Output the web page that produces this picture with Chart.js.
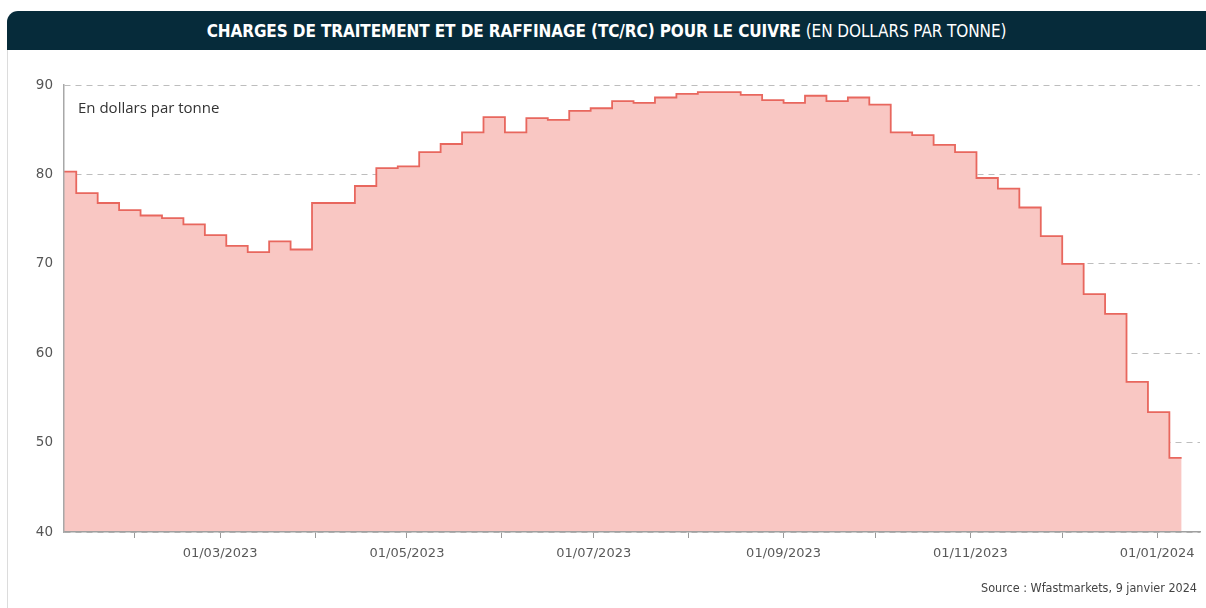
<!DOCTYPE html>
<html lang="fr">
<head>
<meta charset="utf-8">
<title>TC/RC cuivre</title>
<script src="https://cdn.jsdelivr.net/npm/chart.js@4"></script>
<style>
    html, body { margin: 0; padding: 0; background: #fff; }
    body { width: 1206px; height: 608px; position: relative; overflow: hidden; }
    .panel { position: absolute; left: 7px; top: 50px; width: 1199px; height: 558px; border-left: 1px solid #dcdcdc; }
    .title-bar {
        position: absolute; left: 7px; top: 11px; width: 1199px; height: 39px;
        background: #062b3a; border-top-left-radius: 11px;
        color: #fff; font-family: "DejaVu Sans Condensed", "DejaVu Sans", sans-serif; font-size: 17px;
        line-height: 40px; text-align: center; letter-spacing: -0.1px;
    }
    .title-bar b { font-weight: bold; }
    .title-bar span { font-weight: normal; }
    .unit { position: absolute; left: 78px; top: 97px; font-family: "Open Sans", sans-serif; font-size: 15px; color: #333; }
    .source { position: absolute; right: 9px; top: 580px; font-family: "DejaVu Sans Condensed", sans-serif; font-size: 12.5px; color: #444; }
    #chart-wrap { position: absolute; left: 0; top: 0; width: 1206px; height: 608px; }
</style>
</head>
<body>
<div class="panel"></div>
<div class="title-bar"><b>CHARGES DE TRAITEMENT ET DE RAFFINAGE (TC/RC) POUR LE CUIVRE</b> <span>(EN DOLLARS PAR TONNE)</span></div>
<div id="chart-wrap"><canvas id="tcrcChart" width="1206" height="608"></canvas></div>
<div class="unit">En dollars par tonne</div>
<div class="source">Source : Wfastmarkets, 9 janvier 2024</div>

<script>
// Weekly TC/RC price points (price set on Fridays), first and last are the range ends
const dates = [
    '2023-01-09',
    '2023-01-13', '2023-01-20', '2023-01-27',
    '2023-02-03', '2023-02-10', '2023-02-17', '2023-02-24',
    '2023-03-03', '2023-03-10', '2023-03-17', '2023-03-24', '2023-03-31',
    '2023-04-07', '2023-04-14', '2023-04-21', '2023-04-28',
    '2023-05-05', '2023-05-12', '2023-05-19', '2023-05-26',
    '2023-06-02', '2023-06-09', '2023-06-16', '2023-06-23', '2023-06-30',
    '2023-07-07', '2023-07-14', '2023-07-21', '2023-07-28',
    '2023-08-04', '2023-08-11', '2023-08-18', '2023-08-25',
    '2023-09-01', '2023-09-08', '2023-09-15', '2023-09-22', '2023-09-29',
    '2023-10-06', '2023-10-13', '2023-10-20', '2023-10-27',
    '2023-11-03', '2023-11-10', '2023-11-17', '2023-11-24',
    '2023-12-01', '2023-12-08', '2023-12-15', '2023-12-22', '2023-12-29',
    '2024-01-05',
    '2024-01-09'
];

const values = [
    80.3,
    77.9, 76.8, 76.0,
    75.4, 75.1, 74.4, 73.2,
    72.0, 71.3, 72.5, 71.6, 76.8,
    76.8, 78.7, 80.7, 80.9,
    82.5, 83.4, 84.7, 86.4,
    84.7, 86.3, 86.1, 87.1, 87.4,
    88.2, 88.0, 88.6, 89.0,
    89.2, 89.2, 88.9, 88.3,
    88.0, 88.8, 88.2, 88.6, 87.8,
    84.7, 84.4, 83.3, 82.5,
    79.6, 78.4, 76.3, 73.1,
    70.0, 66.6, 64.4, 56.8, 53.4,
    48.3,
    48.3
];

// month starts used as x ticks, only every other one is labelled
const monthTicks = [
    '2023-02-01', '2023-03-01', '2023-04-01', '2023-05-01', '2023-06-01', '2023-07-01',
    '2023-08-01', '2023-09-01', '2023-10-01', '2023-11-01', '2023-12-01', '2024-01-01'
];
const labelledMonths = ['01/03/2023', '01/05/2023', '01/07/2023', '01/09/2023', '01/11/2023', '01/01/2024'];

const yTicks = [40, 50, 60, 70, 80, 90];

const ORIGIN = Date.UTC(2023, 0, 1);
const toDay = iso => {
    const [y, m, d] = iso.split('-').map(Number);
    return (Date.UTC(y, m - 1, d) - ORIGIN) / 86400000;
};
const fmtDay = day => {
    const dt = new Date(ORIGIN + Math.round(day) * 86400000);
    const dd = String(dt.getUTCDate()).padStart(2, '0');
    const mm = String(dt.getUTCMonth() + 1).padStart(2, '0');
    return `${dd}/${mm}/${dt.getUTCFullYear()}`;
};

const points = dates.map((d, i) => ({ x: toDay(d), y: values[i] }));

const ctx = document.getElementById('tcrcChart').getContext('2d');
new Chart(ctx, {
    type: 'line',
    data: {
        datasets: [{
            label: 'TC/RC',
            data: points,
            stepped: 'before',
            borderColor: '#e8675e',
            borderWidth: 1.8,
            backgroundColor: '#f9c7c3',
            fill: 'start',
            pointRadius: 0,
            tension: 0
        }]
    },
    options: {
        responsive: false,
        animation: false,
        layout: { padding: { left: 0, top: 85, right: 6, bottom: 36 } },
        plugins: {
            legend: { display: false },
            tooltip: { enabled: false }
        },
        scales: {
            x: {
                type: 'linear',
                min: toDay('2023-01-09'),
                max: toDay('2024-01-15'),
                afterBuildTicks: scale => {
                    scale.ticks = monthTicks.map(d => ({ value: toDay(d) }));
                },
                afterFit: scale => { scale.height = 40; },
                ticks: {
                    autoSkip: false,
                    maxRotation: 0,
                    padding: 8,
                    color: '#5a5a5a',
                    font: { family: 'DejaVu Sans', size: 13 },
                    callback: value => {
                        const lbl = fmtDay(value);
                        return labelledMonths.includes(lbl) ? lbl : '';
                    }
                },
                grid: { drawOnChartArea: false, drawTicks: true, tickLength: 6, color: '#9a9a9a' },
                border: { display: true, color: '#a0a0a0', width: 1.5, z: 1 }
            },
            y: {
                min: 40,
                max: 90,
                afterBuildTicks: scale => {
                    scale.ticks = yTicks.map(v => ({ value: v }));
                },
                afterFit: scale => { scale.width = 64; },
                ticks: {
                    padding: 11,
                    color: '#555',
                    font: { family: 'DejaVu Sans', size: 13.5 }
                },
                grid: { drawTicks: false, color: '#bdbdbd', lineWidth: 1 },
                border: { display: true, color: '#a8a8a8', width: 1.5, dash: [6, 5], z: 1 }
            }
        }
    }
});
</script>
</body>
</html>
